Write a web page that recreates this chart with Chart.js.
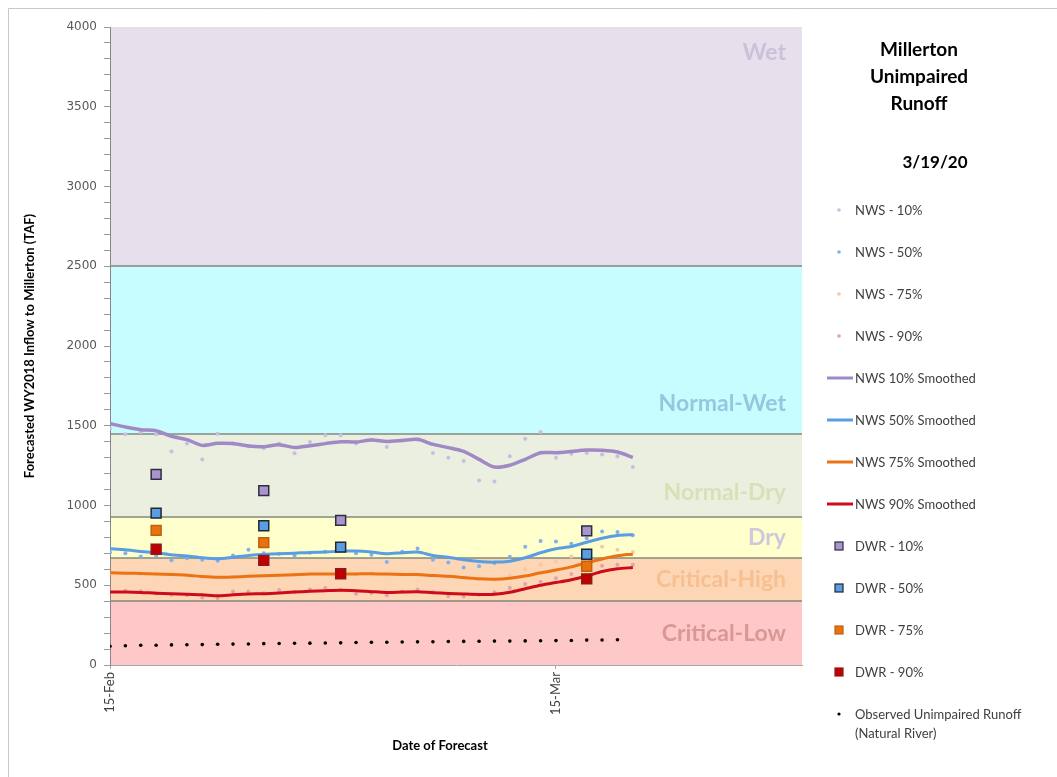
<!DOCTYPE html>
<html>
<head>
<meta charset="utf-8">
<script src="https://cdn.jsdelivr.net/npm/chart.js@4.4.1/dist/chart.umd.min.js"></script>
<style>
  html, body { margin: 0; padding: 0; background: #fff; }
  #wrap { width: 1057px; height: 777px; }
</style>
</head>
<body>
<div id="wrap"><canvas id="millerton" width="1057" height="777"></canvas></div>
<script>
// x values are days after 15-Feb-2020 (leap year, so 15-Mar is day 29)
const tickDays = [0, 29];
const tickLabels = ['15-Feb', '15-Mar'];
const lastDay = 45; // 31-Mar

const chartTitle = ['Millerton', 'Unimpaired', 'Runoff'];
const reportDate = '3/19/20';

// NWS daily forecasts, 15-Feb .. 20-Mar (TAF)
const nws10 = [1482, 1446, 1460, 1446, 1339, 1388, 1289, 1450, 1388, 1371, 1360, 1388, 1327, 1398, 1440, 1440, 1388, 1413,
               1366, 1408, 1413, 1329, 1300, 1279, 1157, 1151, 1308, 1419, 1461, 1300, 1325, 1329, 1319, 1308, 1241];
const nws50 = [705, 701, 681, 683, 656, 670, 660, 653, 687, 723, 700, 698, 686, 703, 710, 720, 701, 691,
               645, 710, 731, 660, 642, 612, 619, 640, 679, 741, 777, 775, 760, 795, 837, 834, 813];
const nws75 = [576, 579, 571, 568, 569, 562, 552, 549, 553, 557, 563, 560, 567, 571, 570, 573, 569, 574,
               568, 570, 565, 561, 553, 546, 537, 536, 560, 600, 630, 650, 680, 700, 742, 722, 709];
const nws90 = [460, 466, 462, 449, 440, 437, 423, 420, 461, 461, 450, 470, 457, 473, 482, 470, 446, 452,
               438, 459, 474, 457, 432, 430, 440, 456, 482, 508, 522, 544, 570, 598, 622, 628, 629];

// smoothed NWS forecasts
const smooth10 = [1513, 1492, 1475, 1469, 1434, 1413, 1377, 1390, 1388, 1373, 1369, 1381, 1363, 1375, 1388, 1400, 1398, 1410,
                  1402, 1408, 1415, 1383, 1363, 1339, 1289, 1241, 1252, 1289, 1331, 1331, 1339, 1348, 1346, 1335, 1302];
const smooth50 = [729, 723, 712, 704, 691, 683, 672, 666, 676, 687, 693, 698, 701, 706, 708, 714, 714, 708,
                  698, 704, 708, 687, 676, 660, 649, 645, 651, 672, 704, 729, 743, 770, 795, 812, 817];
const smooth75 = [578, 576, 573, 570, 567, 563, 555, 550, 552, 556, 560, 562, 566, 570, 571, 571, 571, 572,
                  570, 568, 567, 561, 556, 548, 540, 538, 544, 558, 578, 595, 615, 640, 665, 685, 695];
const smooth90 = [457, 457, 455, 450, 447, 443, 440, 434, 440, 445, 447, 452, 457, 462, 466, 469, 466, 460,
                  455, 457, 459, 453, 449, 445, 442, 444, 456, 478, 500, 517, 535, 558, 586, 603, 611];

// DWR forecasts: 18-Feb, 25-Feb, 1-Mar, 17-Mar
const dwrDays = [3, 10, 15, 31];
const dwr10 = [1195, 1093, 907, 841];
const dwr50 = [952, 873, 739, 694];
const dwr75 = [844, 767, null, 619];
const dwr90 = [726, 656, 572, 540];

// observed unimpaired runoff to date, 15-Feb .. 19-Mar
const observed = [118, 121, 124, 124, 126, 127, 128, 130, 131, 132, 134, 135, 136, 137, 138, 139, 141,
                  142, 143, 144, 145, 146, 147, 148, 149, 150, 150, 151, 152, 153, 154, 156, 157, 158];

// water year types
const yearTypes = ['Critical-Low', 'Critical-High', 'Dry', 'Normal-Dry', 'Normal-Wet', 'Wet'];
const yearTypeBreaks = [0, 400, 670, 930, 1450, 2500, 4000];
const bandFills = ['#fec8c8', '#fcd6b5', '#ffffcc', '#ebefdf', '#c8fdff', '#e5e0ec'];
const bandText = ['#d99795', '#f8bf90', '#cdc8dc', '#d5e2b8', '#93c8de', '#ccc0da'];

function daily(values) {
    return values.map((v, i) => ({ x: i, y: v }));
}
function dwr(values) {
    return values.map((v, i) => ({ x: dwrDays[i], y: v }));
}

function dots(label, data, color) {
    return { label: label, data: daily(data), showLine: false, pointStyle: 'circle', pointRadius: 2,
             pointBorderWidth: 0, backgroundColor: color, borderColor: color, order: 4, marker: 'dot' };
}
function smooth(label, data, color, width) {
    return { label: label, data: daily(data), showLine: true, pointRadius: 0, borderColor: color,
             backgroundColor: color, borderWidth: width, tension: 0.25, order: 3, marker: 'line' };
}
function square(label, data, fill, edge) {
    return { label: label, data: dwr(data), showLine: false, pointStyle: 'rect', pointRadius: 7,
             backgroundColor: fill, borderColor: edge, pointBorderWidth: 1.5, order: 1, marker: 'square' };
}

const datasets = [
    dots('NWS - 10%', nws10, '#c9bde0'),
    dots('NWS - 50%', nws50, '#7eb2ec'),
    dots('NWS - 75%', nws75, '#f6c9a4'),
    dots('NWS - 90%', nws90, '#e3a2ac'),
    smooth('NWS 10% Smoothed', smooth10, '#a08ac6', 3.5),
    smooth('NWS 50% Smoothed', smooth50, '#5b9de2', 3),
    smooth('NWS 75% Smoothed', smooth75, '#ec7314', 3),
    smooth('NWS 90% Smoothed', smooth90, '#cc0c18', 3),
    square('DWR - 10%', dwr10, '#a994cc', '#2c2c44'),
    square('DWR - 50%', dwr50, '#5b9de2', '#1e2836'),
    square('DWR - 75%', dwr75, '#e8730c', '#c0600e'),
    square('DWR - 90%', dwr90, '#c00000', '#901818'),
    { label: 'Observed Unimpaired Runoff\n(Natural River)', data: daily(observed), showLine: false,
      pointStyle: 'circle', pointRadius: 1.8, pointBorderWidth: 0, backgroundColor: '#000',
      borderColor: '#000', order: 2, marker: 'dot' }
];

// coloured water-year bands behind the data
const bandsPlugin = {
    id: 'bands',
    beforeDraw(chart) {
        const { ctx, chartArea: a, scales: { y } } = chart;
        ctx.save();
        for (let i = 0; i < yearTypes.length; i++) {
            const top = y.getPixelForValue(yearTypeBreaks[i + 1]);
            const bot = y.getPixelForValue(yearTypeBreaks[i]);
            ctx.fillStyle = bandFills[i];
            ctx.fillRect(a.left, top, a.right - a.left, bot - top);
        }
        ctx.strokeStyle = 'rgba(110,122,110,0.65)';
        ctx.lineWidth = 2;
        for (let i = 1; i < yearTypeBreaks.length - 1; i++) {
            const py = Math.round(y.getPixelForValue(yearTypeBreaks[i]));
            ctx.beginPath();
            ctx.moveTo(a.left, py);
            ctx.lineTo(a.right, py);
            ctx.stroke();
        }
        ctx.font = 'bold 23px Lato';
        ctx.textAlign = 'right';
        ctx.textBaseline = 'middle';
        for (let i = 0; i < yearTypes.length; i++) {
            const top = y.getPixelForValue(yearTypeBreaks[i + 1]);
            const bot = y.getPixelForValue(yearTypeBreaks[i]);
            let ty = (top + bot) / 2;
            if (yearTypes[i] === 'Wet') ty = top + 26;
            if (yearTypes[i] === 'Normal-Wet') ty = bot - 30;
            if (yearTypes[i] === 'Normal-Dry') ty = bot - 24;
            ctx.fillStyle = bandText[i];
            ctx.fillText(yearTypes[i], a.right - 16, ty);
        }
        // frame of the chart object
        ctx.strokeStyle = '#c8c8c8';
        ctx.lineWidth = 1;
        ctx.beginPath();
        ctx.moveTo(8.5, 777);
        ctx.lineTo(8.5, 8.5);
        ctx.lineTo(1057, 8.5);
        ctx.stroke();
        ctx.restore();
    }
};

// title, legend and x axis title on the right / bottom
const sideLegend = {
    id: 'sideLegend',
    afterDraw(chart) {
        const ctx = chart.ctx;
        ctx.save();
        ctx.fillStyle = '#000';
        ctx.textAlign = 'center';
        ctx.textBaseline = 'middle';
        ctx.font = 'bold 19px Lato';
        chartTitle.forEach((t, i) => ctx.fillText(t, 919, 50 + i * 27));
        ctx.font = 'bold 17px Lato';
        ctx.fillText(reportDate, 935, 163);

        ctx.font = 'bold 13px Lato';
        ctx.fillText('Date of Forecast', 440, 746);

        ctx.font = '13px Lato';
        ctx.textAlign = 'left';
        chart.data.datasets.forEach((ds, i) => {
            const ry = 210 + i * 42;
            const mx = 839;
            if (ds.marker === 'dot') {
                ctx.fillStyle = ds.backgroundColor;
                ctx.beginPath();
                ctx.arc(mx, ry, ds.label.startsWith('Observed') ? 1.6 : 1.8, 0, Math.PI * 2);
                ctx.fill();
            } else if (ds.marker === 'line') {
                ctx.strokeStyle = ds.borderColor;
                ctx.lineWidth = 3;
                ctx.beginPath();
                ctx.moveTo(827, ry);
                ctx.lineTo(853, ry);
                ctx.stroke();
            } else {
                ctx.fillStyle = ds.backgroundColor;
                ctx.strokeStyle = ds.borderColor;
                ctx.lineWidth = 1.2;
                ctx.fillRect(835, ry - 4, 8, 8);
                ctx.strokeRect(835, ry - 4, 8, 8);
            }
            ctx.fillStyle = '#404040';
            ds.label.split('\n').forEach((line, k) => ctx.fillText(line, 855, ry + 1 + k * 19));
        });
        ctx.restore();
    }
};

new Chart(document.getElementById('millerton'), {
    type: 'scatter',
    data: { datasets: datasets },
    plugins: [bandsPlugin, sideLegend],
    options: {
        responsive: false,
        animation: false,
        layout: { padding: { left: 0, top: 27, right: 255, bottom: 0 } },
        plugins: { legend: { display: false }, tooltip: { enabled: false } },
        scales: {
            x: {
                type: 'linear',
                min: 0,
                max: lastDay,
                afterFit: s => { s.height = 112; },
                afterBuildTicks: s => { s.ticks = tickDays.map(v => ({ value: v })); },
                ticks: {
                    autoSkip: false,
                    minRotation: 90,
                    maxRotation: 90,
                    padding: 3,
                    color: '#404040',
                    font: { family: 'Lato', size: 13 },
                    callback: v => tickLabels[tickDays.indexOf(v)]
                },
                grid: { drawOnChartArea: false, tickLength: 4, color: '#a6a6a6' },
                border: { color: '#a6a6a6', width: 1 }
            },
            y: {
                min: 0,
                max: 4000,
                afterFit: s => { s.width = 110; },
                ticks: {
                    stepSize: 100,
                    autoSkip: false,
                    padding: 7,
                    color: '#595959',
                    font: { family: 'DejaVu Sans', size: 12 },
                    callback: v => (v % 500 === 0 ? v : '')
                },
                grid: { drawOnChartArea: false, tickLength: 6, color: '#9a9a9a' },
                border: { color: '#868686', width: 1 },
                title: {
                    display: true,
                    text: 'Forecasted WY2018 Inflow to Millerton (TAF)',
                    color: '#000',
                    font: { family: 'Lato', size: 13, weight: 'bold' },
                    padding: { top: 22, bottom: 0 }
                }
            }
        }
    }
});
</script>
</body>
</html>
